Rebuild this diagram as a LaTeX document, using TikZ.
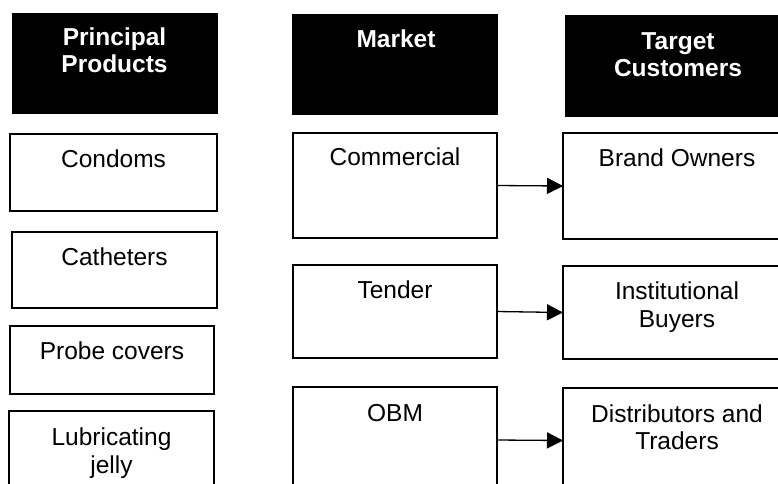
\documentclass[tikz,border=0pt]{standalone}
\usepackage{fontspec}
\setmainfont{Liberation Sans}
\usetikzlibrary{arrows.meta}
\begin{document}
\begin{tikzpicture}[x=1pt,y=-1pt,
  box/.style={draw=black,line width=1.3pt,fill=white,inner sep=0pt,outer sep=0pt,anchor=north west},
  hdr/.style={fill=black,draw=black,inner sep=0pt,outer sep=0pt,anchor=north west},
  txt/.style={anchor=base,inner sep=0pt,text=black,font=\fontsize{24.5}{27.5}\selectfont},
  htxt/.style={anchor=base,inner sep=0pt,text=white,font=\fontsize{24.5}{27.5}\selectfont\bfseries},
  arr/.style={draw=black,line width=1.3pt,-{Triangle[length=16pt,width=16pt]}}]
\useasboundingbox (0,0) rectangle (778,483);
\clip (0,0) rectangle (778,483);
% headers
\node[hdr,minimum width=205pt,minimum height=100pt] (h1) at (12,13) {};
\node[hdr,minimum width=205pt,minimum height=100pt] (h2) at (292,14) {};
\node[hdr,minimum width=227pt,minimum height=101pt] (h3) at (565,15) {};
\node[htxt] (h1a) at (114.5,45) {Principal};
\node[htxt] (h1b) at (114.5,72) {Products};
\node[htxt] (h2a) at (396,47) {Market};
\node[htxt] (h3a) at (678,49) {Target};
\node[htxt] (h3b) at (678,76) {Customers};
% left column
\node[box,minimum width=207pt,minimum height=77pt] (cond) at (10,134) {};
\node[txt] (condt) at (113.5,167) {Condoms};
\node[box,minimum width=205pt,minimum height=76pt] (cath) at (12,232) {};
\node[txt] (catht) at (114.5,265) {Catheters};
\node[box,minimum width=204pt,minimum height=68pt] (probe) at (10,326) {};
\node[txt] (probet) at (112,359) {Probe covers};
\node[box,minimum width=205pt,minimum height=90pt] (lub) at (9,411) {};
\node[txt] (lubt1) at (111.5,445) {Lubricating};
\node[txt] (lubt2) at (111.5,473) {jelly};
% middle column
\node[box,minimum width=204pt,minimum height=105pt] (comm) at (293,133) {};
\node[txt] (commt) at (395,165) {Commercial};
\node[box,minimum width=204pt,minimum height=93pt] (tend) at (293,265) {};
\node[txt] (tendt) at (395,298) {Tender};
\node[box,minimum width=204pt,minimum height=106pt] (obm) at (293,387) {};
\node[txt] (obmt) at (395,421) {OBM};
% right column
\node[box,minimum width=229pt,minimum height=106pt] (brand) at (563,133) {};
\node[txt] (brandt) at (677,166) {Brand Owners};
\node[box,minimum width=229pt,minimum height=93pt] (inst) at (563,266) {};
\node[txt] (instt1) at (677,299) {Institutional};
\node[txt] (instt2) at (677,327) {Buyers};
\node[box,minimum width=229pt,minimum height=105pt] (dist) at (563,388) {};
\node[txt] (distt1) at (677,422) {Distributors and};
\node[txt] (distt2) at (677,449) {Traders};
% arrows
\draw[arr] (comm.east) -- (brand.west);
\draw[arr] (tend.east) -- (inst.west);
\draw[arr] (obm.east) -- (dist.west);
\end{tikzpicture}
\end{document}
